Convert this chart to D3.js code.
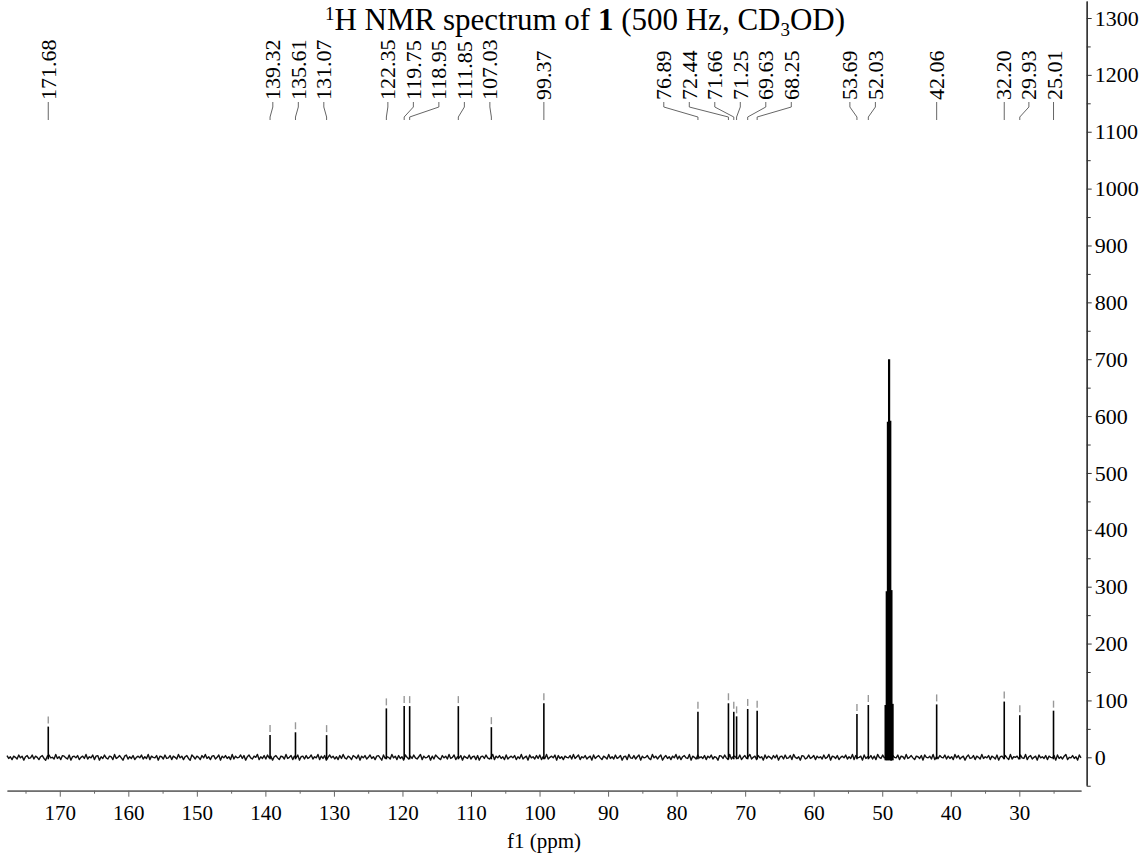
<!DOCTYPE html>
<html><head><meta charset="utf-8">
<script src="https://cdn.jsdelivr.net/npm/d3@7"></script>
<style>
body{margin:0;background:#fff}
svg{display:block}
text{font-family:"Liberation Serif","Times New Roman",serif;fill:#000}
</style>
</head><body>
<svg id="c" width="1146" height="855"></svg>
<script>
// ---- data ----
const peakPpm = [171.68,139.32,135.61,131.07,122.35,119.75,118.95,111.85,107.03,99.37,76.89,72.44,71.66,71.25,69.63,68.25,53.69,52.03,42.06,32.20,29.93,25.01];
const peakHeight = [54,39,44,39,86,90,90,90,53,95,80,95,80,72,85,82,76,92,93,98,74,82];
const peakLabels = ["171.68","139.32","135.61","131.07","122.35","119.75","118.95","111.85","107.03","99.37","76.89","72.44","71.66","71.25","69.63","68.25","53.69","52.03","42.06","32.20","29.93","25.01"];
const solventPpm = [49.51,49.34,49.17,49.00,48.83,48.66,48.49];
const solventHeight = [92,292,590,700,592,294,94];
const baselineStart = 177.7, baselineEnd = 21.0;
const noise = [
3,-2,1,-4,2,0,-3,4,-1,2,-5,1,3,-2,-1,4,-3,2,0,-4,
1,3,-2,-5,2,4,-1,0,-3,5,-2,1,-4,3,2,-1,-3,4,-5,1,
2,-1,3,-4,0,2,-2,5,-3,1,-1,4,-4,2,3,-5,1,-2,4,-1,
-3,2,1,-4,5,-2,0,3,-1,-5,2,4,-3,1,-2,3,-4,0,2,-1,
4,-3,1,-2,5,-4,2,0,-1,3,-5,2,1,-3,4,-2,-1,3,-4,2,
0,-3,5,-1,2,-4,1,3,-2,-5,4,1,-3,2,0,-4,3,-1,5,-2,
1,-4,2,3,-3,0,4,-5,2,-1,3,-2,1,-4,5,-3,2,-1,0,4,
-2,3,-5,1,4,-1,-3,2,0,5,-4,1,-2,3,-3,4,-1,2,-5,1,
3,-1,-4,2,1,-3,5,-2,0,3,-4,2,-1,4,-5,1,2,-3,3,-2,
0,4,-3,1,-1,5,-4,2,-2,3,-5,0,4,-1,2,-3,1,-4,3,-2,
5,-1,-3,2,0,-4,3,1,-2,4,-5,2,-1,3,-3,0,4,-2,1,-4,
2,3,-1,-5,4,-2,1,0,-3,5,-1,2,-4,3,-2,1,-5,4,0,-3,
2,-2,4,-1,-3,1,5,-4,2,-1,0,3,-5,2,-3,4,1,-2,-4,3,
-1,2,-3,5,-2,0,4,-4,1,-1,3,-5,2,0,-2,4,-3,1,2,-4,
3,-5,1,2,-2,4,-1,-3,0,5,-4,2,-1,3,-2,1,-4,4,-3,0,
2,-1,3,-4,1,-2,5,-3,0,2,-5,4,-1,1,-3,3,-2,4,-4,1,
-2,5,-3,0,2,-1,4,-5,3,-2,1,-4,2,0,-1,3,-3,5,-2,1,
4,-4,1,-1,3,-3,0,2,-5,4,-2,1,3,-1,-4,2,0,-3,5,-2,
1,-3,4,-2,0,3,-5,1,2,-4,5,-1,-2,3,-3,1,4,-5,2,-1,
0,3,-2,-4,5,-1,2,-3,1,4,-5,0,3,-2,1,-4,2,-1,5,-3,
2,-4,1,3,-1,-2,5,-5,2,0,-3,4,-1,1,-2,3,-4,2,-1,4,
-3,1,0,-5,3,2,-2,4,-1,-4,5,-3,1,2,-1,-2,4,-4,0,3,
-2,1,5,-3,0,2,-4,3,-1,1,-5,4,-2,2,0,-3,3,-1,4,-5,
1,2,-3,4,-2,-1,3,-4,5,0,-2,1,-5,3,2,-3,-1,4,-2,0,
3,-4,2,-1,1,-3,4,-2,0,5,-5,2,1,-2,3,-4,0,2,-1,4,
-3,1,-2,5,-4,3,-1,0,2,-5,4,-2,1,-1,3,-3,2,-4,5,0,
-2,4,-1,1,-3,2,-5,3,0,-1,4,-4,2,1,-3,5,-2,0,3,-1,
-4,2,1,-2,3,-5,4,0,-1,2,-3,5,-4,1,-2,3,0,-1,4,-3,
2,-2,1,-4,5,-1,3,-3,0,2,-5,1,4,-2,-1,3,-4,2,0,-3,
5,-2,1,-1,3,-4,2,0,-3,4,-5,1,2,-2,3,-1,-4,5,-3,1,
0,2,-3,4,-1,-2,5,-4,1,3,-3,0,2,-5,4,-1,1,-2,3,-4,
2,0,-1,3,-5,4,-2,1,-3,2,5,-4,0,-1,3,-2,1,-5,4,-1];
const xTicks = [170,160,150,140,130,120,110,100,90,80,70,60,50,40,30];
const xMinor = [175,165,155,145,135,125,115,105,95,85,75,65,55,45,35,25];
const yTicks = [0,100,200,300,400,500,600,700,800,900,1000,1100,1200,1300];
const yMinor = [-50,50,150,250,350,450,550,650,750,850,950,1050,1150,1250];
const yAxisRange = [-49,1330];

// ---- layout ----
const svg = d3.select("#c");
const x = d3.scaleLinear().domain([baselineStart, baselineEnd]).range([7,1081]);
const y = d3.scaleLinear().domain([0,1300]).range([757.3, 18]);
const yAxisX = 1086.7, xAxisY = 790.7;

// title
const title = svg.append("text").attr("x",585).attr("y",30).attr("text-anchor","middle").style("font-size","31px");
title.append("tspan").text("1").style("font-size","19px").attr("dy","-10");
title.append("tspan").text("H NMR spectrum of ").attr("dy","10");
title.append("tspan").text("1").style("font-weight","bold");
title.append("tspan").text(" (500 Hz, CD");
title.append("tspan").text("3").style("font-size","19px").attr("dy","6");
title.append("tspan").text("OD)").attr("dy","-6");

// baseline noise
const basePts = noise.map((v,i)=>[baselineStart - i*(baselineStart-baselineEnd)/(noise.length-1), v]);
svg.append("path").datum(basePts)
  .attr("d", d3.line().x(d=>x(d[0])).y(d=>y(d[1])))
  .attr("fill","none").attr("stroke","#111").attr("stroke-width",1.4).attr("stroke-linejoin","round");

// peaks
const peaks = peakPpm.map((p,i)=>({p, h:peakHeight[i], label:peakLabels[i]}));
svg.append("g").selectAll("line").data(peaks).join("line")
  .attr("x1",d=>x(d.p)).attr("x2",d=>x(d.p))
  .attr("y1",y(0)+2).attr("y2",d=>y(d.h))
  .attr("stroke","#000").attr("stroke-width",1.6);
// solvent multiplet
svg.append("g").selectAll("line").data(solventPpm.map((p,i)=>({p,h:solventHeight[i]}))).join("line")
  .attr("x1",d=>x(d.p)).attr("x2",d=>x(d.p))
  .attr("y1",y(0)+3).attr("y2",d=>y(d.h))
  .attr("stroke","#000").attr("stroke-width",2.2);
// peak pick markers
svg.append("g").selectAll("line").data(peaks).join("line")
  .attr("x1",d=>x(d.p)).attr("x2",d=>x(d.p))
  .attr("y1",d=>y(d.h)-3).attr("y2",d=>y(d.h)-10)
  .attr("stroke","#999").attr("stroke-width",1.4);

// label placement: clusters of near peaks, spread evenly around the cluster mid-range
const gap = 25.5, mergeDist = 38;
let items = peaks.map(d=>({d, px:x(d.p)})).sort((a,b)=>a.px-b.px);
let clusters = items.map(it=>({m:[it]}));
function span(c){const lo=d3.min(c.m,t=>t.px), hi=d3.max(c.m,t=>t.px); const mid=(lo+hi)/2; const n=c.m.length; return {s:mid-(n-1)*gap/2, e:mid+(n-1)*gap/2};}
let merged=true;
while(merged){merged=false;for(let k=0;k<clusters.length-1;k++){const a=span(clusters[k]),b=span(clusters[k+1]);if(b.s-a.e<mergeDist){clusters[k].m=clusters[k].m.concat(clusters[k+1].m);clusters.splice(k+1,1);merged=true;break;}}}
clusters.forEach(c=>{const s=span(c).s; c.m.forEach((t,j)=>{t.lx=s+j*gap;});});

const textBottom = 102, bend1 = textBottom+5, bend2 = textBottom+15, leaderEnd = textBottom+18;
const lab = svg.append("g");
items.forEach(t=>{
  const px=t.px, lx=t.lx;
  const pts = Math.abs(px-lx)<1.5 ? [[px,textBottom],[px,leaderEnd]] : [[lx,textBottom],[lx,bend1],[px,bend2],[px,leaderEnd]];
  lab.append("path").attr("d",d3.line()(pts)).attr("fill","none").attr("stroke","#666").attr("stroke-width",1);
  lab.append("text").attr("transform",`translate(${lx+7.6},${textBottom-2}) rotate(-90)`)
    .style("font-size","22px").text(t.d.label);
});

// x axis
const gx = svg.append("g").attr("transform",`translate(0,${xAxisY})`);
gx.call(d3.axisBottom(x).tickValues(xTicks).tickSize(6).tickSizeOuter(0).tickPadding(8).tickFormat(d3.format("d")));
gx.append("g").call(d3.axisBottom(x).tickValues(xMinor).tickSize(3).tickSizeOuter(0).tickFormat(""));
gx.selectAll("path").attr("stroke","#666").attr("stroke-width",1.3);
gx.selectAll("line").attr("stroke","#666");
gx.selectAll("text").style("font-family","Liberation Serif").style("font-size","21px").attr("fill","#000");
svg.append("text").attr("x",x((baselineStart+baselineEnd)/2)).attr("y",848).attr("text-anchor","middle").style("font-size","21px").text("f1 (ppm)");

// y axis
const yA = y.copy().domain(yAxisRange).range(yAxisRange.map(v=>y(v)));
const gy = svg.append("g").attr("transform",`translate(${yAxisX},0)`);
gy.call(d3.axisRight(yA).tickValues(yTicks).tickSize(5).tickSizeOuter(0).tickPadding(3).tickFormat(d3.format("d")));
gy.append("g").call(d3.axisRight(yA).tickValues(yMinor).tickSize(4).tickSizeOuter(0).tickFormat(""));
gy.selectAll("path").attr("stroke","#333").attr("stroke-width",1.3);
gy.selectAll("line").attr("stroke","#333");
gy.selectAll("text").style("font-family","Liberation Serif").style("font-size","22px").attr("fill","#000");
</script>
</body></html>
